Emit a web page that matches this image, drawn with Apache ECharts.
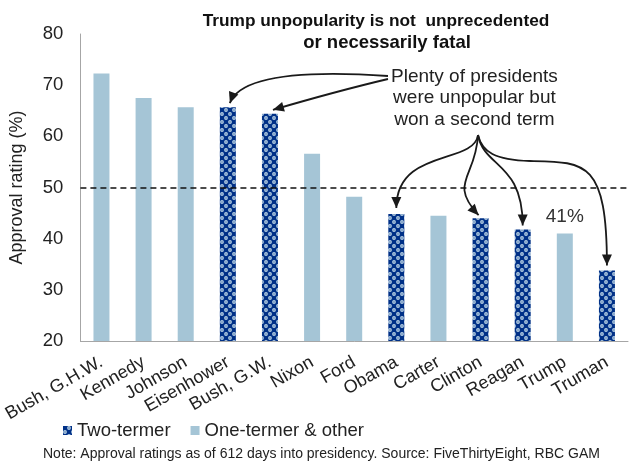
<!DOCTYPE html>
<html><head><meta charset="utf-8">
<script src="https://cdn.jsdelivr.net/npm/echarts@6/dist/echarts.min.js"></script>
<style>html,body{margin:0;padding:0;background:#fff}#c{width:636px;height:465px}</style>
</head><body><div id="c"></div>
<script>
var categories = ['Bush, G.H.W.','Kennedy','Johnson','Eisenhower','Bush, G.W.','Nixon','Ford','Obama','Carter','Clinton','Reagan','Trump','Truman'];
var approval = [72.3, 67.5, 65.7, 65.7, 64.4, 56.6, 48.2, 44.8, 44.5, 44.0, 41.8, 41.0, 33.8];
var twoTermers = ['Eisenhower','Bush, G.W.','Obama','Clinton','Reagan','Truman'];
var yTicks = [20, 30, 40, 50, 60, 70, 80];
var threshold = 50;

var FONT = 'Liberation Sans, Arial, sans-serif';
var LIGHT = '#a5c5d6', NAVY = '#003087';

var pc = document.createElement('canvas'); pc.width = 8; pc.height = 8;
var g = pc.getContext('2d');
g.fillStyle = NAVY; g.fillRect(0,0,8,8);
g.fillStyle = '#b8d2e4';
g.beginPath(); g.arc(6,2,1.9,0,Math.PI*2); g.fill();
g.beginPath(); g.arc(2,6,1.9,0,Math.PI*2); g.fill();
g.fillStyle = NAVY;
g.fillRect(5.5,1.5,1,1); g.fillRect(1.5,5.5,1,1);
var pattern = {image: pc, repeat: 'repeat'};

var twoData = categories.map(function(c,i){ return twoTermers.indexOf(c) >= 0 ? approval[i] : '-'; });
var oneData = categories.map(function(c,i){
  if (twoTermers.indexOf(c) >= 0) return '-';
  if (c === 'Trump') return {value: approval[i], label: {show: true, position: 'top', distance: 7, formatter: Math.round(approval[i]) + '%', fontSize: 19, color: '#333', fontFamily: FONT}};
  return approval[i];
});

var chart = echarts.init(document.getElementById('c'));
chart.setOption({
  animation: false,
  title: {
    text: '{a|Trump unpopularity is not  unprecedented}\n{b|or necessarily fatal}',
    left: 371, top: 5, textAlign: 'center',
    textStyle: {fontFamily: FONT, fontWeight: 'bold', fontSize: 17, color: '#111', lineHeight: 22,
      rich: {
        a: {fontFamily: FONT, fontWeight: 'bold', fontSize: 17.3, color: '#111', lineHeight: 22},
        b: {fontFamily: FONT, fontWeight: 'bold', fontSize: 18.5, color: '#111', lineHeight: 22, padding: [0, 0, 0, 22]}
      }}
  },
  grid: {left: 79, right: 8, top: 34, bottom: 124},
  legend: {
    left: 58, top: 416, itemWidth: 9, itemHeight: 9, itemGap: 20, icon: 'rect',
    textStyle: {fontFamily: FONT, fontSize: 18.5, color: '#222'},
    data: ['Two-termer', 'One-termer & other']
  },
  xAxis: {
    type: 'category', data: categories,
    axisLine: {lineStyle: {color: '#a6a6a6', width: 1}},
    axisTick: {show: false},
    axisLabel: {rotate: 30, interval: 0, margin: 20, fontFamily: FONT, fontSize: 18, color: '#222'}
  },
  yAxis: {
    type: 'value', min: yTicks[0], max: yTicks[yTicks.length-1], interval: 10,
    name: 'Approval rating (%)', nameLocation: 'middle', nameGap: 54,
    nameTextStyle: {fontFamily: FONT, fontSize: 18, color: '#222'},
    axisLine: {show: true, lineStyle: {color: '#a6a6a6', width: 1}},
    axisTick: {show: false}, splitLine: {show: false},
    axisLabel: {margin: 17, fontFamily: FONT, fontSize: 18.5, color: '#222'}
  },
  series: [
    {name: 'Two-termer', type: 'bar', data: twoData, barWidth: 16, barGap: '-100%',
     itemStyle: {color: pattern}},
    {name: 'One-termer & other', type: 'bar', data: oneData, barWidth: 16,
     itemStyle: {color: LIGHT},
     markLine: {silent: true, symbol: 'none', label: {show: false},
       lineStyle: {color: '#111', type: [6, 4], width: 1.5},
       data: [{yAxis: threshold}]}}
  ]
});

function P(name){
  var i = categories.indexOf(name);
  return chart.convertToPixel({gridIndex: 0}, [i, approval[i]]);
}
function head(tip, from){
  var dx = tip[0]-from[0], dy = tip[1]-from[1], L = Math.sqrt(dx*dx+dy*dy);
  var ux = dx/L, uy = dy/L, len = 11, w = 5;
  var bx = tip[0]-ux*len, by = tip[1]-uy*len;
  return {type: 'polygon', shape: {points: [tip, [bx-uy*w, by+ux*w], [bx+uy*w, by-ux*w]]}, style: {fill: '#1a1a1a'}};
}
function seg(s, c1, c2, e){
  return {type: 'bezierCurve', shape: {x1: s[0], y1: s[1], cpx1: c1[0], cpy1: c1[1], cpx2: c2[0], cpy2: c2[1], x2: e[0], y2: e[1]},
     style: {stroke: '#1a1a1a', lineWidth: 1.8, fill: null}};
}
function curve(s, c1, c2, e){
  return [seg(s, c1, c2, e), head(e, c2)];
}
var els = [];
var pE = P('Eisenhower'), pB = P('Bush, G.W.'), pO = P('Obama'), pC = P('Clinton'), pR = P('Reagan'), pT = P('Truman');
var src = [478, 135];
els = els.concat(curve([388, 76], [300, 70], [240, 76], [pE[0]+2, pE[1]-4]));
els = els.concat(curve([388, 79], [350, 88], [310, 99], [pB[0]+3, pB[1]-4]));
els = els.concat(curve(src, [474, 165], [pO[0], 148], [pO[0], pO[1]-6]));
els = els.concat(curve(src, [476, 178], [448, 182], [pC[0]-2, pC[1]-3]));
els = els.concat(curve(src, [484, 168], [pR[0], 162], [pR[0], pR[1]-4]));
var tT = [pT[0], pT[1]-5];
var mid = [530, 161];
els.push(seg(src, [482, 152], [495, 160], mid));
els = els.concat(curve(mid, [585, 162], [tT[0], 160], tT));
els.push({type: 'text', left: 391, top: 66, style: {
  text: 'Plenty of presidents\nwere unpopular but\nwon a second term', textAlign: 'center',
  font: '19px ' + FONT, fill: '#222', lineHeight: 21.5}});
els.push({type: 'text', left: 43, top: 447, style: {
  text: 'Note: Approval ratings as of 612 days into presidency. Source: FiveThirtyEight, RBC GAM',
  font: '14px ' + FONT, fill: '#222'}});
chart.setOption({graphic: els});
</script></body></html>
